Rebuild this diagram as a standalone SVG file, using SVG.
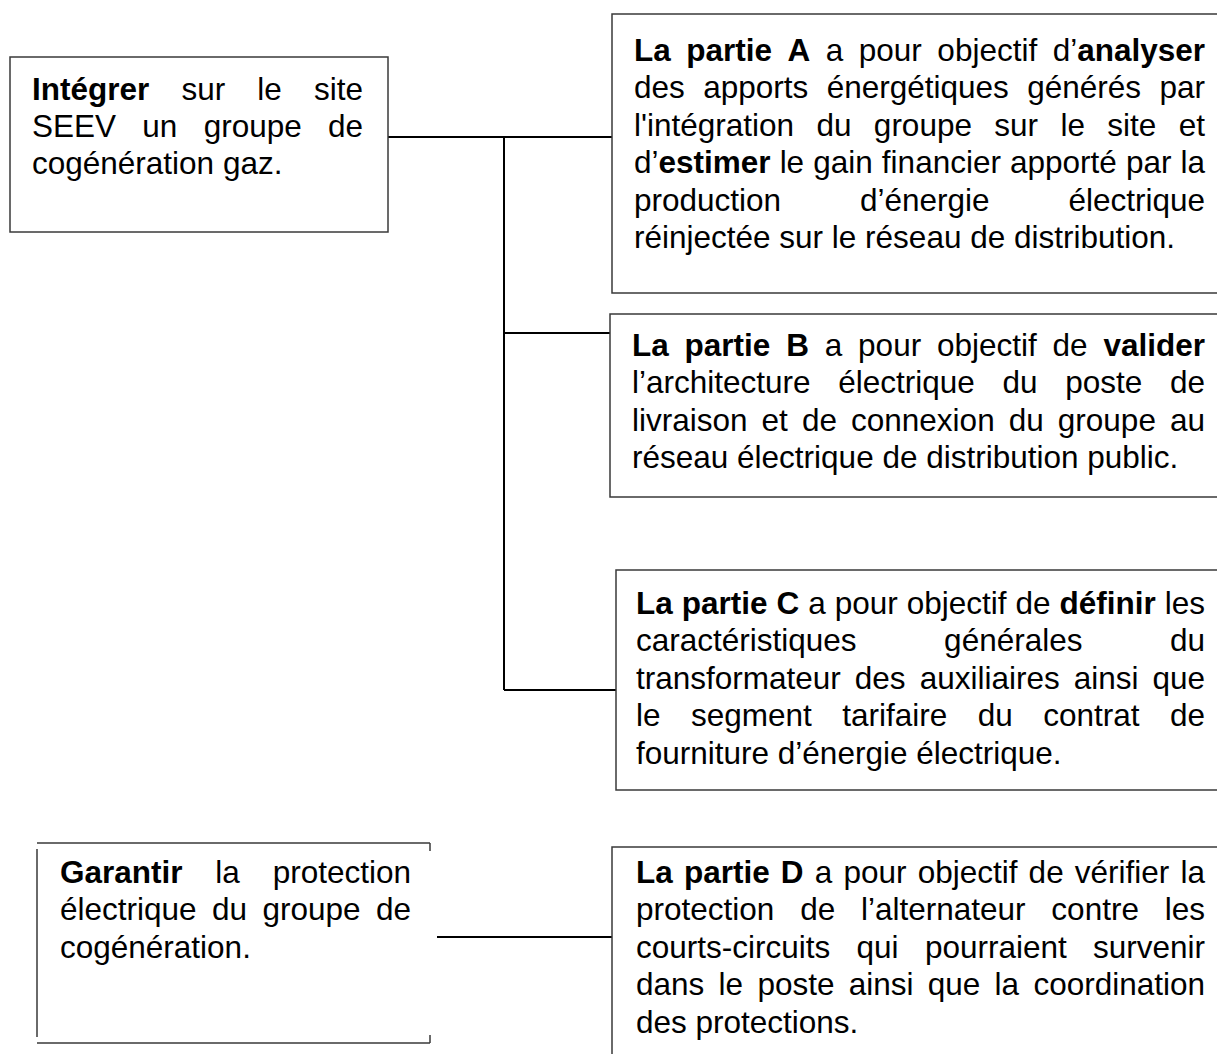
<svg xmlns="http://www.w3.org/2000/svg" width="1217" height="1054" viewBox="0 0 1217 1054">
<style>
.bg{fill:#fff}
.box{fill:none;stroke:#3a3a3a;stroke-width:1.5}
.wire{fill:none;stroke:#000;stroke-width:2}
.t{font-family:"Liberation Sans",Arial,sans-serif;font-size:31.5px;fill:#000}
.b{font-weight:bold}
</style>
<rect class="bg" x="0" y="0" width="1217" height="1054"/>
<g id="connectors">
<line class="wire" x1="388" y1="137" x2="612" y2="137"/>
<line class="wire" x1="504" y1="137" x2="504" y2="690"/>
<line class="wire" x1="504" y1="333" x2="610" y2="333"/>
<line class="wire" x1="504" y1="690" x2="616" y2="690"/>
<line class="wire" x1="437" y1="937" x2="612" y2="937"/>
</g>
<g id="node-integrer">
<rect class="box" x="10" y="57" width="378" height="175"/>
<text class="t" y="99.5"><tspan x="32" class="b">Intégrer</tspan><tspan x="181.42">sur</tspan><tspan x="257.32">le</tspan><tspan x="313.98">site</tspan></text>
<text class="t" y="136.9"><tspan x="32">SEEV</tspan><tspan x="142.32">un</tspan><tspan x="203.63">groupe</tspan><tspan x="327.97">de</tspan></text>
<text class="t" x="32" y="174.3">cogénération gaz.</text>
</g>
<g id="node-partie-a">
<path class="box" d="M1217,14 H612 V293 H1217"/>
<text class="t" y="61"><tspan x="634" class="b">La</tspan><tspan x="686.27" class="b">partie</tspan><tspan x="787.55" class="b">A</tspan><tspan x="825.80">a</tspan><tspan x="858.82">pour</tspan><tspan x="937.36">objectif</tspan><tspan x="1052.66">d’<tspan class="b">analyser</tspan></tspan></text>
<text class="t" y="98.4"><tspan x="634">des</tspan><tspan x="703.22">apports</tspan><tspan x="826.70">énergétiques</tspan><tspan x="1027.24">générés</tspan><tspan x="1159.48">par</tspan></text>
<text class="t" y="135.8"><tspan x="634">l'intégration</tspan><tspan x="816.46">du</tspan><tspan x="873.87">groupe</tspan><tspan x="994.31">sur</tspan><tspan x="1060.44">le</tspan><tspan x="1107.33">site</tspan><tspan x="1178.72">et</tspan></text>
<text class="t" y="173.2"><tspan x="634">d’<tspan class="b">estimer</tspan></tspan><tspan x="779.64">le</tspan><tspan x="813.24">gain</tspan><tspan x="881.87">financier</tspan><tspan x="1010.00">apporté</tspan><tspan x="1125.91">par</tspan><tspan x="1180.52">la</tspan></text>
<text class="t" y="210.6"><tspan x="634">production</tspan><tspan x="859.98">d’énergie</tspan><tspan x="1068.45">électrique</tspan></text>
<text class="t" x="634" y="248">réinjectée sur le réseau de distribution.</text>
</g>
<g id="node-partie-b">
<path class="box" d="M1217,314 H610 V497 H1217"/>
<text class="t" y="356"><tspan x="632" class="b">La</tspan><tspan x="684.59" class="b">partie</tspan><tspan x="786.19" class="b">B</tspan><tspan x="824.76">a</tspan><tspan x="858.10">pour</tspan><tspan x="936.96">objectif</tspan><tspan x="1052.58">de</tspan><tspan x="1103.44" class="b">valider</tspan></text>
<text class="t" y="393.4"><tspan x="632">l’architecture</tspan><tspan x="838.24">électrique</tspan><tspan x="1002.49">du</tspan><tspan x="1065.22">poste</tspan><tspan x="1169.97">de</tspan></text>
<text class="t" y="430.8"><tspan x="632">livraison</tspan><tspan x="761.59">et</tspan><tspan x="801.94">de</tspan><tspan x="851.05">connexion</tspan><tspan x="1008.71">du</tspan><tspan x="1057.82">groupe</tspan><tspan x="1169.96">au</tspan></text>
<text class="t" x="632" y="468.2">réseau électrique de distribution public.</text>
</g>
<g id="node-partie-c">
<path class="box" d="M1217,570 H616 V790 H1217"/>
<text class="t" y="614"><tspan x="636" class="b">La</tspan><tspan x="681.74" class="b">partie</tspan><tspan x="776.49" class="b">C</tspan><tspan x="808.21">a</tspan><tspan x="834.70">pour</tspan><tspan x="906.71">objectif</tspan><tspan x="1015.48">de</tspan><tspan x="1059.49" class="b">définir</tspan><tspan x="1164.73">les</tspan></text>
<text class="t" y="651.4"><tspan x="636">caractéristiques</tspan><tspan x="944.11">générales</tspan><tspan x="1169.98">du</tspan></text>
<text class="t" y="688.8"><tspan x="636">transformateur</tspan><tspan x="854.83">des</tspan><tspan x="919.63">auxiliaires</tspan><tspan x="1073.67">ainsi</tspan><tspan x="1152.45">que</tspan></text>
<text class="t" y="726.2"><tspan x="636">le</tspan><tspan x="690.97">segment</tspan><tspan x="842.23">tarifaire</tspan><tspan x="977.71">du</tspan><tspan x="1043.20">contrat</tspan><tspan x="1169.96">de</tspan></text>
<text class="t" x="636" y="763.6">fourniture d’énergie électrique.</text>
</g>
<g id="node-garantir">
<path class="box" d="M37,843 H430 M37,1043 H430 M37,849 V1037 M430,843 V851 M430,1035 V1043"/>
<text class="t" y="883"><tspan x="60" class="b">Garantir</tspan><tspan x="215.36">la</tspan><tspan x="272.69">protection</tspan></text>
<text class="t" y="920.4"><tspan x="60">électrique</tspan><tspan x="211.99">du</tspan><tspan x="262.46">groupe</tspan><tspan x="375.96">de</tspan></text>
<text class="t" x="60" y="957.8">cogénération.</text>
</g>
<g id="node-partie-d">
<path class="box" d="M1217,847 H612 V1054"/>
<text class="t" y="883"><tspan x="636" class="b">La</tspan><tspan x="683.93" class="b">partie</tspan><tspan x="780.87" class="b">D</tspan><tspan x="814.78">a</tspan><tspan x="843.46">pour</tspan><tspan x="917.66">objectif</tspan><tspan x="1028.62">de</tspan><tspan x="1074.82">vérifier</tspan><tspan x="1180.49">la</tspan></text>
<text class="t" y="920.4"><tspan x="636">protection</tspan><tspan x="800.14">de</tspan><tspan x="860.99">l’alternateur</tspan><tspan x="1051.37">contre</tspan><tspan x="1164.73">les</tspan></text>
<text class="t" y="957.8"><tspan x="636">courts-circuits</tspan><tspan x="856.56">qui</tspan><tspan x="924.88">pourraient</tspan><tspan x="1092.99">survenir</tspan></text>
<text class="t" y="995.2"><tspan x="636">dans</tspan><tspan x="718.58">le</tspan><tspan x="757.38">poste</tspan><tspan x="848.72">ainsi</tspan><tspan x="927.77">que</tspan><tspan x="994.60">la</tspan><tspan x="1033.40">coordination</tspan></text>
<text class="t" x="636" y="1032.6">des protections.</text>
</g>
</svg>
